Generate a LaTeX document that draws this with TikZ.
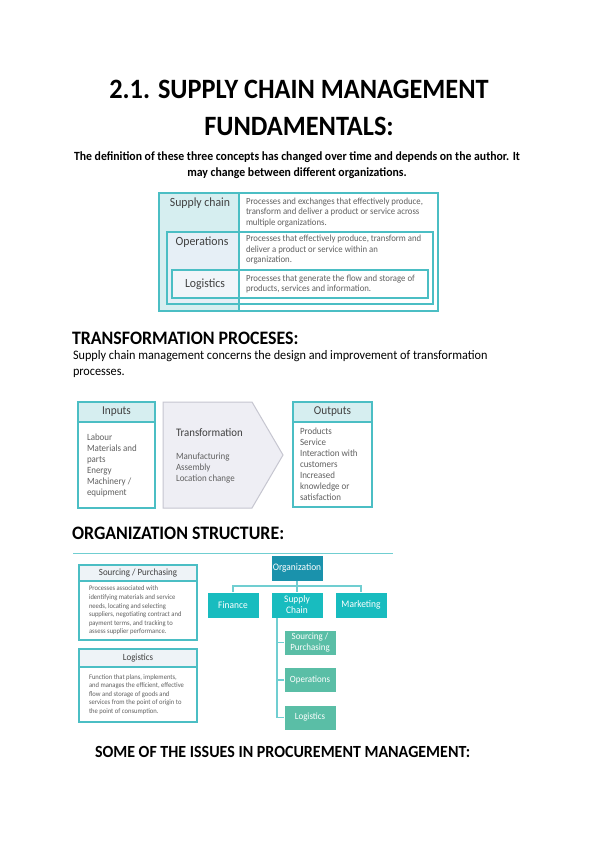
\documentclass[tikz,border=0pt]{standalone}
\usepackage{fontspec}
\setmainfont{Carlito}[FakeStretch=0.94]
\usepackage{tikz}
\usetikzlibrary{positioning, calc}
\definecolor{tealLine}{RGB}{75, 190, 196}
\definecolor{tealLight}{RGB}{214, 238, 240}
\definecolor{opsFill}{RGB}{230, 239, 246}
\definecolor{logFill}{RGB}{241, 245, 249}
\definecolor{headFill}{RGB}{238, 243, 247}
\definecolor{orgDark}{RGB}{26, 146, 172}
\definecolor{orgMid}{RGB}{24, 188, 191}
\definecolor{orgLow}{RGB}{90, 190, 166}
\definecolor{treeLine}{RGB}{112, 206, 209}
\definecolor{tfFill}{RGB}{238, 238, 244}
\definecolor{tfLine}{RGB}{198, 198, 208}
\definecolor{textGray}{RGB}{64, 64, 64}
\definecolor{descGray}{RGB}{96, 96, 96}

\begin{document}
\begin{tikzpicture}[x=1pt, y=-1pt,
      every node/.style={inner sep=0pt, outer sep=0pt},
      heading/.style={anchor=west, text=black, font=\fontsize{19}{22}\selectfont\bfseries},
      tabLabel/.style={text=textGray, font=\fontsize{12.5}{15}\selectfont},
      tabText/.style={anchor=west, align=flush left, text width=188, text=descGray, font=\fontsize{9.3}{10.5}\selectfont},
      hdr/.style={draw=tealLine, line width=1.5pt, fill=tealLight, minimum height=20, text=textGray, font=\fontsize{12}{14}\selectfont},
      bodybox/.style={draw=tealLine, line width=1.5pt, align=flush left, text=descGray, font=\fontsize{9.5}{11}\selectfont},
      smallhdr/.style={draw=tealLine, line width=1.5pt, fill=headFill, minimum width=118, text=textGray, font=\fontsize{9.5}{11}\selectfont},
      smallbody/.style={draw=tealLine, line width=1.5pt, minimum width=118, text width=98, align=flush left, text=descGray, font=\fontsize{7}{8.6}\selectfont},
      lvlA/.style={fill=orgDark, draw=white, text=white, minimum width=52, minimum height=26, font=\fontsize{10}{11}\selectfont},
      lvlB/.style={fill=orgMid, draw=white, text=white, minimum width=52, minimum height=26, align=center, font=\fontsize{10}{11}\selectfont},
      lvlC/.style={fill=orgLow, draw=white, text=white, minimum width=52, minimum height=25, align=center, font=\fontsize{9.5}{10.5}\selectfont},
      link/.style={draw=treeLine, line width=1.2pt}]

      \fill[white] (0,0) rectangle (599,848);
      \useasboundingbox (0,0) rectangle (599,848);

      % title and intro
      \node[align=center, text=black, font=\fontsize{28}{37}\selectfont\bfseries] (title) at (299,108) {2.1. SUPPLY CHAIN MANAGEMENT\\FUNDAMENTALS:};
      \node[align=center, text=black, font=\fontsize{12.5}{16}\selectfont\bfseries] (intro) at (297,165) {The definition of these three concepts has changed over time and depends on the author. It\\may change between different organizations.};

      % nested definitions
      \node[fill=tealLight, minimum width=80, minimum height=118] (sccol) at (199,252) {};
      \node[fill=opsFill, minimum width=72, minimum height=72] (opscol) at (203,268) {};
      \node[fill=logFill, minimum width=67, minimum height=28] (logcol) at (205.5,284) {};
      \node[draw=tealLine, line width=1.2pt, minimum width=279, minimum height=118] (scbox) at (298.5,252) {};
      \node[draw=tealLine, line width=1.2pt, minimum width=266, minimum height=72] (opsbox) at (300,268) {};
      \node[draw=tealLine, line width=1.2pt, minimum width=256, minimum height=28] (logbox) at (300,284) {};
      \draw[tealLine, line width=1.2pt] (sccol.north east) -- (sccol.south east);

      \node[tabLabel] (sclab) at (200,203) {Supply chain};
      \node[tabLabel] (opslab) at (202,242) {Operations};
      \node[tabLabel] (loglab) at (205,284) {Logistics};
      \node[tabText] (scdesc) at (246,212.5) {Processes and exchanges that effectively produce,\\transform and deliver a product or service across\\multiple organizations.};
      \node[tabText] (opsdesc) at (246,250) {Processes that effectively produce, transform and\\deliver a product or service within an\\organization.};
      \node[tabText] (logdesc) at (246,284) {Processes that generate the flow and storage of\\products, services and information.};

      % transformation processes
      \node[heading] (tphead) at (72,338) {TRANSFORMATION PROCESES:};
      \node[anchor=west, align=flush left, text=black, font=\fontsize{13}{16}\selectfont] (tpbody) at (73,364) {Supply chain management concerns the design and improvement of transformation\\processes.};

      \node[hdr, minimum width=77] (inhead) at (116.5,412) {Inputs};
      \node[bodybox, minimum width=77, minimum height=86, text width=59, below=0pt of inhead] (inbody) {Labour\\Materials and\\parts\\Energy\\Machinery /\\equipment};

      \draw[fill=tfFill, draw=tfLine, line width=1pt] (163,402) -- (252,402) -- (283,455) -- (252,508) -- (163,508) -- cycle;
      \node[anchor=west, text=textGray, font=\fontsize{11.5}{14}\selectfont] (tftitle) at (176,433) {Transformation};
      \node[anchor=west, align=flush left, text=descGray, font=\fontsize{9.5}{11}\selectfont] (tfitems) at (176,468) {Manufacturing\\Assembly\\Location change};

      \node[hdr, minimum width=79] (outhead) at (332.5,412) {Outputs};
      \node[bodybox, minimum width=79, minimum height=85, text width=65, below=0pt of outhead] (outbody) {Products\\Service\\Interaction with\\customers\\Increased\\knowledge or\\satisfaction};

      % organization structure
      \node[heading] (orghead) at (72,533) {ORGANIZATION STRUCTURE:};
      \draw[treeLine, line width=0.8pt] (73,553) -- (393,553);

      \node[smallhdr, minimum height=16] (srchead) at (138,573) {Sourcing / Purchasing};
      \node[smallbody, minimum height=59, below=0pt of srchead] (srcbody) {Processes associated with\\identifying materials and service\\needs, locating and selecting\\suppliers, negotiating contract and\\payment terms, and tracking to\\assess supplier performance.};
      \node[smallhdr, minimum height=18] (lgshead) at (138,658) {Logistics};
      \node[smallbody, minimum height=55, below=0pt of lgshead] (lgsbody) {Function that plans, implements,\\and manages the efficient, effective\\flow and storage of goods and\\services from the point of origin to\\the point of consumption.};

      \node[lvlA] (org) at (297,568) {Organization};
      \node[lvlB] (fin) at (233,605) {Finance};
      \node[lvlB] (chain) at (297,605) {Supply\\Chain};
      \node[lvlB] (mkt) at (361,605) {Marketing};
      \node[lvlC] (purch) at (310,642.5) {Sourcing /\\Purchasing};
      \node[lvlC] (oper) at (310,680) {Operations};
      \node[lvlC] (logi) at (310,717.5) {Logistics};

      \coordinate (bus) at ($(org.south)+(0,5)$);
      \coordinate (trunk) at ($(chain.south west)+(6,0)$);
      \draw[link] (org) -- (chain);
      \draw[link] (bus) -| (fin);
      \draw[link] (bus) -| (mkt);
      \draw[link] (trunk) |- (purch);
      \draw[link] (trunk) |- (oper);
      \draw[link] (trunk) |- (logi);

      \node[heading, font=\fontsize{17}{20}\selectfont\bfseries] (issuehead) at (95,752) {SOME OF THE ISSUES IN PROCUREMENT MANAGEMENT:};
  \end{tikzpicture}
\end{document}
